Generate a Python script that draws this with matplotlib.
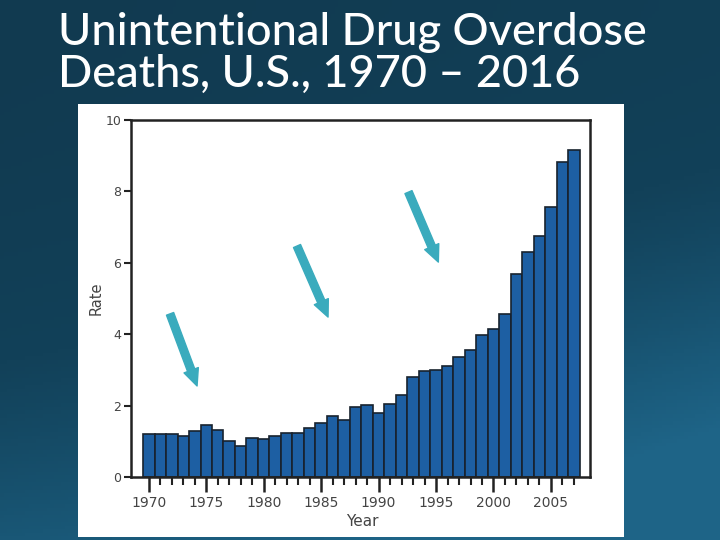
import numpy as np
import matplotlib
matplotlib.use("Agg")
import matplotlib.pyplot as plt
from matplotlib.colors import LinearSegmentedColormap
from matplotlib.patches import Rectangle

# rate per 100,000
years = list(range(1970, 2008))
rate = [1.21, 1.21, 1.21, 1.14, 1.28, 1.47, 1.31, 1.00, 0.86, 1.10,
        1.07, 1.14, 1.22, 1.22, 1.37, 1.50, 1.72, 1.59, 1.96, 2.03,
        1.80, 2.05, 2.31, 2.81, 2.96, 3.00, 3.12, 3.35, 3.57, 3.97,
        4.15, 4.57, 5.69, 6.29, 6.76, 7.57, 8.83, 9.17]

title_lines = ["Unintentional Drug Overdose", "Deaths, U.S., 1970 \u2013 2016"]

# arrows (start x, start y, end x, end y) in data units
arrows = [(1971.85, 4.57, 1974.2, 2.55),
          (1982.9, 6.47, 1985.6, 4.48),
          (1992.6, 7.98, 1995.2, 6.02)]

fig = plt.figure(figsize=(7.2, 5.4), dpi=100)

# slide background gradient
bg = fig.add_axes([0, 0, 1, 1])
bg.set_axis_off()
xx, yy = np.meshgrid(np.linspace(0, 1, 200), np.linspace(0, 1, 150))
t = np.clip(0.25 * xx + 0.75 * yy ** 1.6 + 0.35 * (xx * yy) ** 2, 0, 1)
cmap = LinearSegmentedColormap.from_list("slide", ["#113a50", "#124159", "#1a5a7a", "#236f95"])
bg.imshow(t, cmap=cmap, aspect="auto", extent=[0, 1, 1, 0], vmin=0, vmax=1.2)
bg.set_xlim(0, 1)
bg.set_ylim(1, 0)

# white picture panel
bg.add_patch(Rectangle((78 / 720, 104 / 540), 546 / 720, 433 / 540,
                       facecolor="white", edgecolor="none", zorder=2))

for line, base in zip(title_lines, [45, 87]):
    fig.text(58 / 720, 1 - base / 540, line, color="white", fontsize=32.5, family="Lato",
             fontweight="medium", va="baseline", ha="left")

ax = fig.add_axes([131 / 720, 1 - 477 / 540, 459 / 720, 357 / 540])
ax.bar(years, rate, width=1.0, color="#1d5fa3", edgecolor="#18222e", linewidth=1.2)
ax.set_xlim(1968.45, 2008.4)
ax.set_ylim(0, 10)
ax.set_yticks([0, 2, 4, 6, 8, 10])
ax.set_xticks(range(1970, 2006, 5))
ax.set_xticks(years, minor=True)
for s in ax.spines.values():
    s.set_linewidth(1.8)
    s.set_color("#222222")
ax.tick_params(axis="y", length=5, width=1.5, color="#222222", labelsize=9, labelcolor="#444444", pad=2)
ax.tick_params(axis="x", which="major", length=11, width=1.8, color="#222222", labelsize=10,
               labelcolor="#444444", pad=3)
ax.tick_params(axis="x", which="minor", length=6, width=1.5, color="#222222")
ax.set_ylabel("Rate", fontsize=10.5, color="#444444", labelpad=1)
ax.set_xlabel("Year", fontsize=11, color="#444444", labelpad=4)
ax.xaxis.set_label_coords(0.503, -0.105)

for x0, y0, x1, y1 in arrows:
    ax.annotate("", xy=(x1, y1), xytext=(x0, y0),
                arrowprops=dict(arrowstyle="simple,head_length=1.1,head_width=1.0,tail_width=0.5",
                                color="#3aabbd", mutation_scale=11, shrinkA=0, shrinkB=0))

fig.savefig("out.png", dpi=100)
